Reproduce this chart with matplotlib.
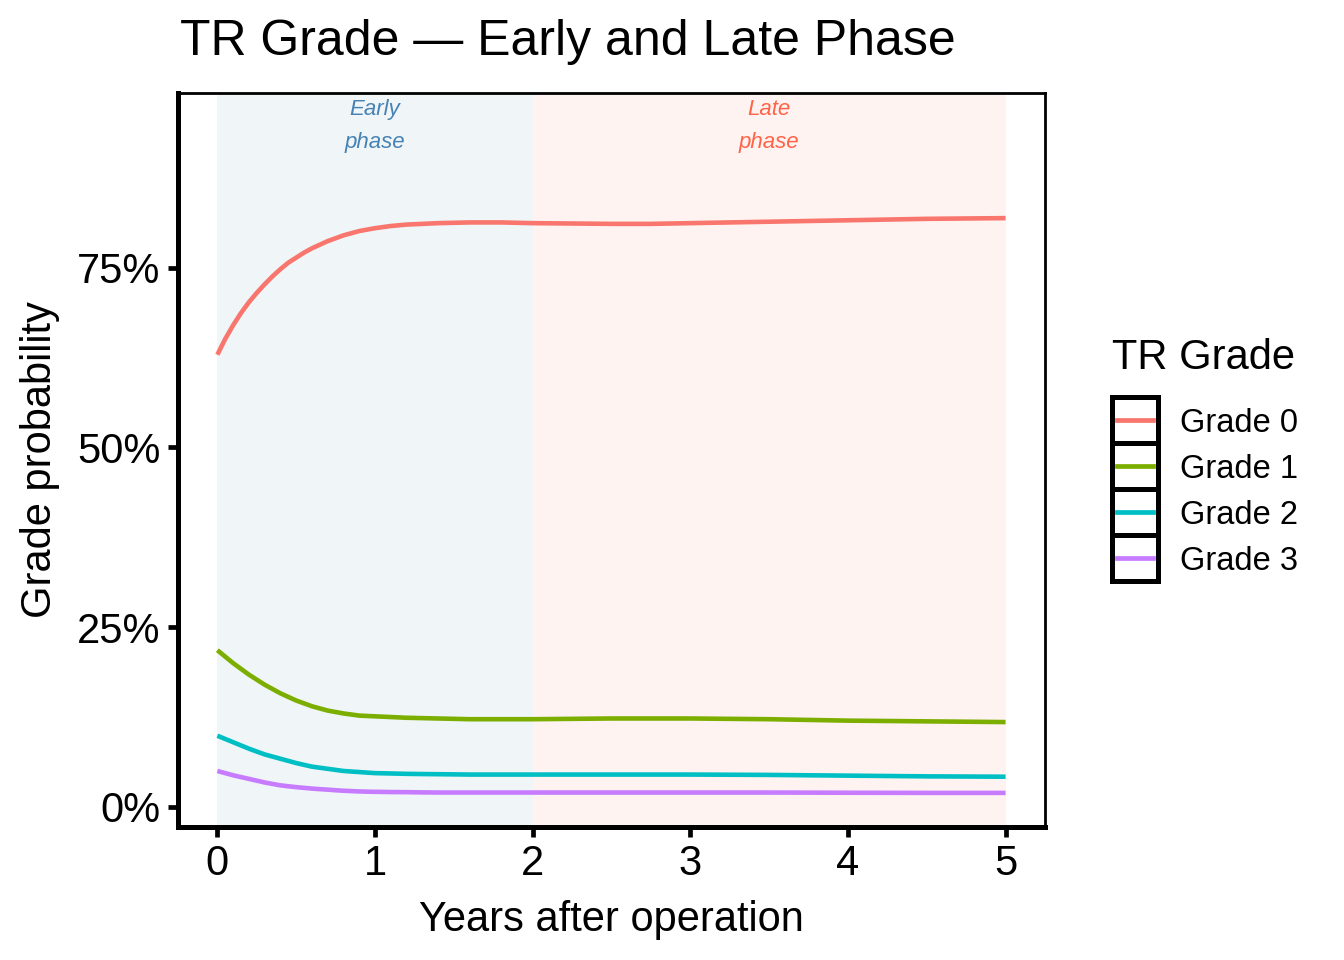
import numpy as np
import matplotlib
matplotlib.use("Agg")
import matplotlib.pyplot as plt
from matplotlib.patches import Rectangle
from matplotlib.lines import Line2D
from matplotlib.ticker import FuncFormatter

plt.rcParams['font.family'] = ['Liberation Sans', 'DejaVu Sans']

# years after operation
years = [0.0, 0.05, 0.1, 0.15, 0.2, 0.25, 0.3, 0.35, 0.4, 0.45, 0.5, 0.55, 0.6, 0.65, 0.7,
         0.75, 0.8, 0.85, 0.9, 0.95, 1.0, 1.1, 1.2, 1.3, 1.4, 1.6, 1.8,
         2.0, 2.25, 2.5, 2.75, 3.0, 3.5, 4.0, 4.5, 5.0]

# grade probabilities (%)
grade0 = [62.9, 65.1, 67.0, 68.7, 70.2, 71.5, 72.7, 73.8, 74.8, 75.7, 76.4, 77.1, 77.7, 78.2, 78.7,
          79.1, 79.5, 79.8, 80.1, 80.3, 80.5, 80.8, 81.0, 81.1, 81.2, 81.3, 81.3,
          81.2, 81.15, 81.1, 81.1, 81.2, 81.4, 81.6, 81.8, 81.9]
grade1 = [21.8, 20.9, 20.0, 19.2, 18.4, 17.7, 17.0, 16.4, 15.8, 15.3, 14.8, 14.4, 14.0, 13.7, 13.4,
          13.2, 13.0, 12.85, 12.7, 12.65, 12.6, 12.5, 12.4, 12.35, 12.3, 12.2, 12.2,
          12.2, 12.25, 12.3, 12.3, 12.3, 12.2, 12.0, 11.9, 11.8]
grade2 = [9.9, 9.45, 9.0, 8.55, 8.1, 7.7, 7.3, 7.0, 6.7, 6.4, 6.1, 5.85, 5.6, 5.45, 5.3,
          5.15, 5.0, 4.92, 4.85, 4.77, 4.7, 4.65, 4.6, 4.57, 4.55, 4.5, 4.5,
          4.5, 4.5, 4.5, 4.5, 4.5, 4.45, 4.35, 4.25, 4.2]
grade3 = [5.0, 4.7, 4.4, 4.15, 3.9, 3.65, 3.4, 3.2, 3.0, 2.87, 2.75, 2.65, 2.55, 2.47, 2.4,
          2.32, 2.25, 2.2, 2.15, 2.12, 2.1, 2.07, 2.05, 2.02, 2.0, 2.0, 2.0,
          2.0, 2.0, 2.0, 2.0, 2.0, 2.0, 1.97, 1.95, 1.95]

grade_labels = ["Grade 0", "Grade 1", "Grade 2", "Grade 3"]
grade_colors = ["#F8766D", "#7CAE00", "#00BFC4", "#C77CFF"]

# phases
phase_names = ["Early\nphase", "Late\nphase"]
phase_start = [0, 2]
phase_end = [2, 5]
phase_fill = ["#F0F5F8", "#FFF3F1"]
phase_text = ["#4682B4", "#FF6347"]

fig = plt.figure(figsize=(13.44, 9.6), dpi=100)
ax = fig.add_axes([0.1324, 0.1385, 0.6451, 0.7646])

for s, e, c in zip(phase_start, phase_end, phase_fill):
	ax.axvspan(s, e, color=c, lw=0, zorder=0)
for s, e, name, c in zip(phase_start, phase_end, phase_names, phase_text):
	ax.text((s + e) / 2, 0.947, name, ha="center", va="center", color=c,
		fontsize=16, style="italic", linespacing=1.8)

series = [grade0, grade1, grade2, grade3]
for vals, col in zip(series, grade_colors):
	ax.plot(years, np.array(vals) / 100, color=col, lw=3.3, solid_capstyle="butt",
		solid_joinstyle="round", zorder=3)

ax.set_xlim(-0.25, 5.25)
ax.set_ylim(-0.028, 0.993)
ax.set_xticks([0, 1, 2, 3, 4, 5])
ax.set_yticks([0, 0.25, 0.5, 0.75])
ax.yaxis.set_major_formatter(FuncFormatter(lambda v, p: "{:.0f}%".format(v * 100)))
ax.tick_params(axis="both", labelsize=30, length=7.5, width=3.4, color="black", labelcolor="black")
ax.tick_params(axis="y", pad=5)
ax.tick_params(axis="x", pad=5)

for side in ["left", "bottom"]:
	ax.spines[side].set_linewidth(3.6)
for side in ["top", "right"]:
	ax.spines[side].set_linewidth(2.0)

ax.set_xlabel("Years after operation", fontsize=30, labelpad=11)
ax.set_ylabel("Grade probability", fontsize=30, labelpad=12)
fig.text(180 / 1344, 1 - 42 / 960, "TR Grade \u2014 Early and Late Phase", fontsize=36,
	ha="left", va="center")

# legend drawn by hand to mimic boxed ggplot keys
W, H = 1344.0, 960.0
fig.text(1112 / W, 1 - 358 / H, "TR Grade", fontsize=30, ha="left", va="center")
row_h = 46
top = 397
for i, (lab, col) in enumerate(zip(grade_labels, grade_colors)):
	y0 = top + i * row_h
	fig.add_artist(Rectangle((1112 / W, 1 - (y0 + row_h) / H), 46 / W, row_h / H,
		transform=fig.transFigure, facecolor="white", edgecolor="black", lw=3.6))
	yc = 1 - (y0 + row_h / 2) / H
	fig.add_artist(Line2D([1117 / W, 1153 / W], [yc, yc], transform=fig.transFigure,
		color=col, lw=3.4))
	fig.text(1180 / W, yc - 4 / H, lab, fontsize=23.5, ha="left", va="center")

fig.savefig("out.png", dpi=100)
